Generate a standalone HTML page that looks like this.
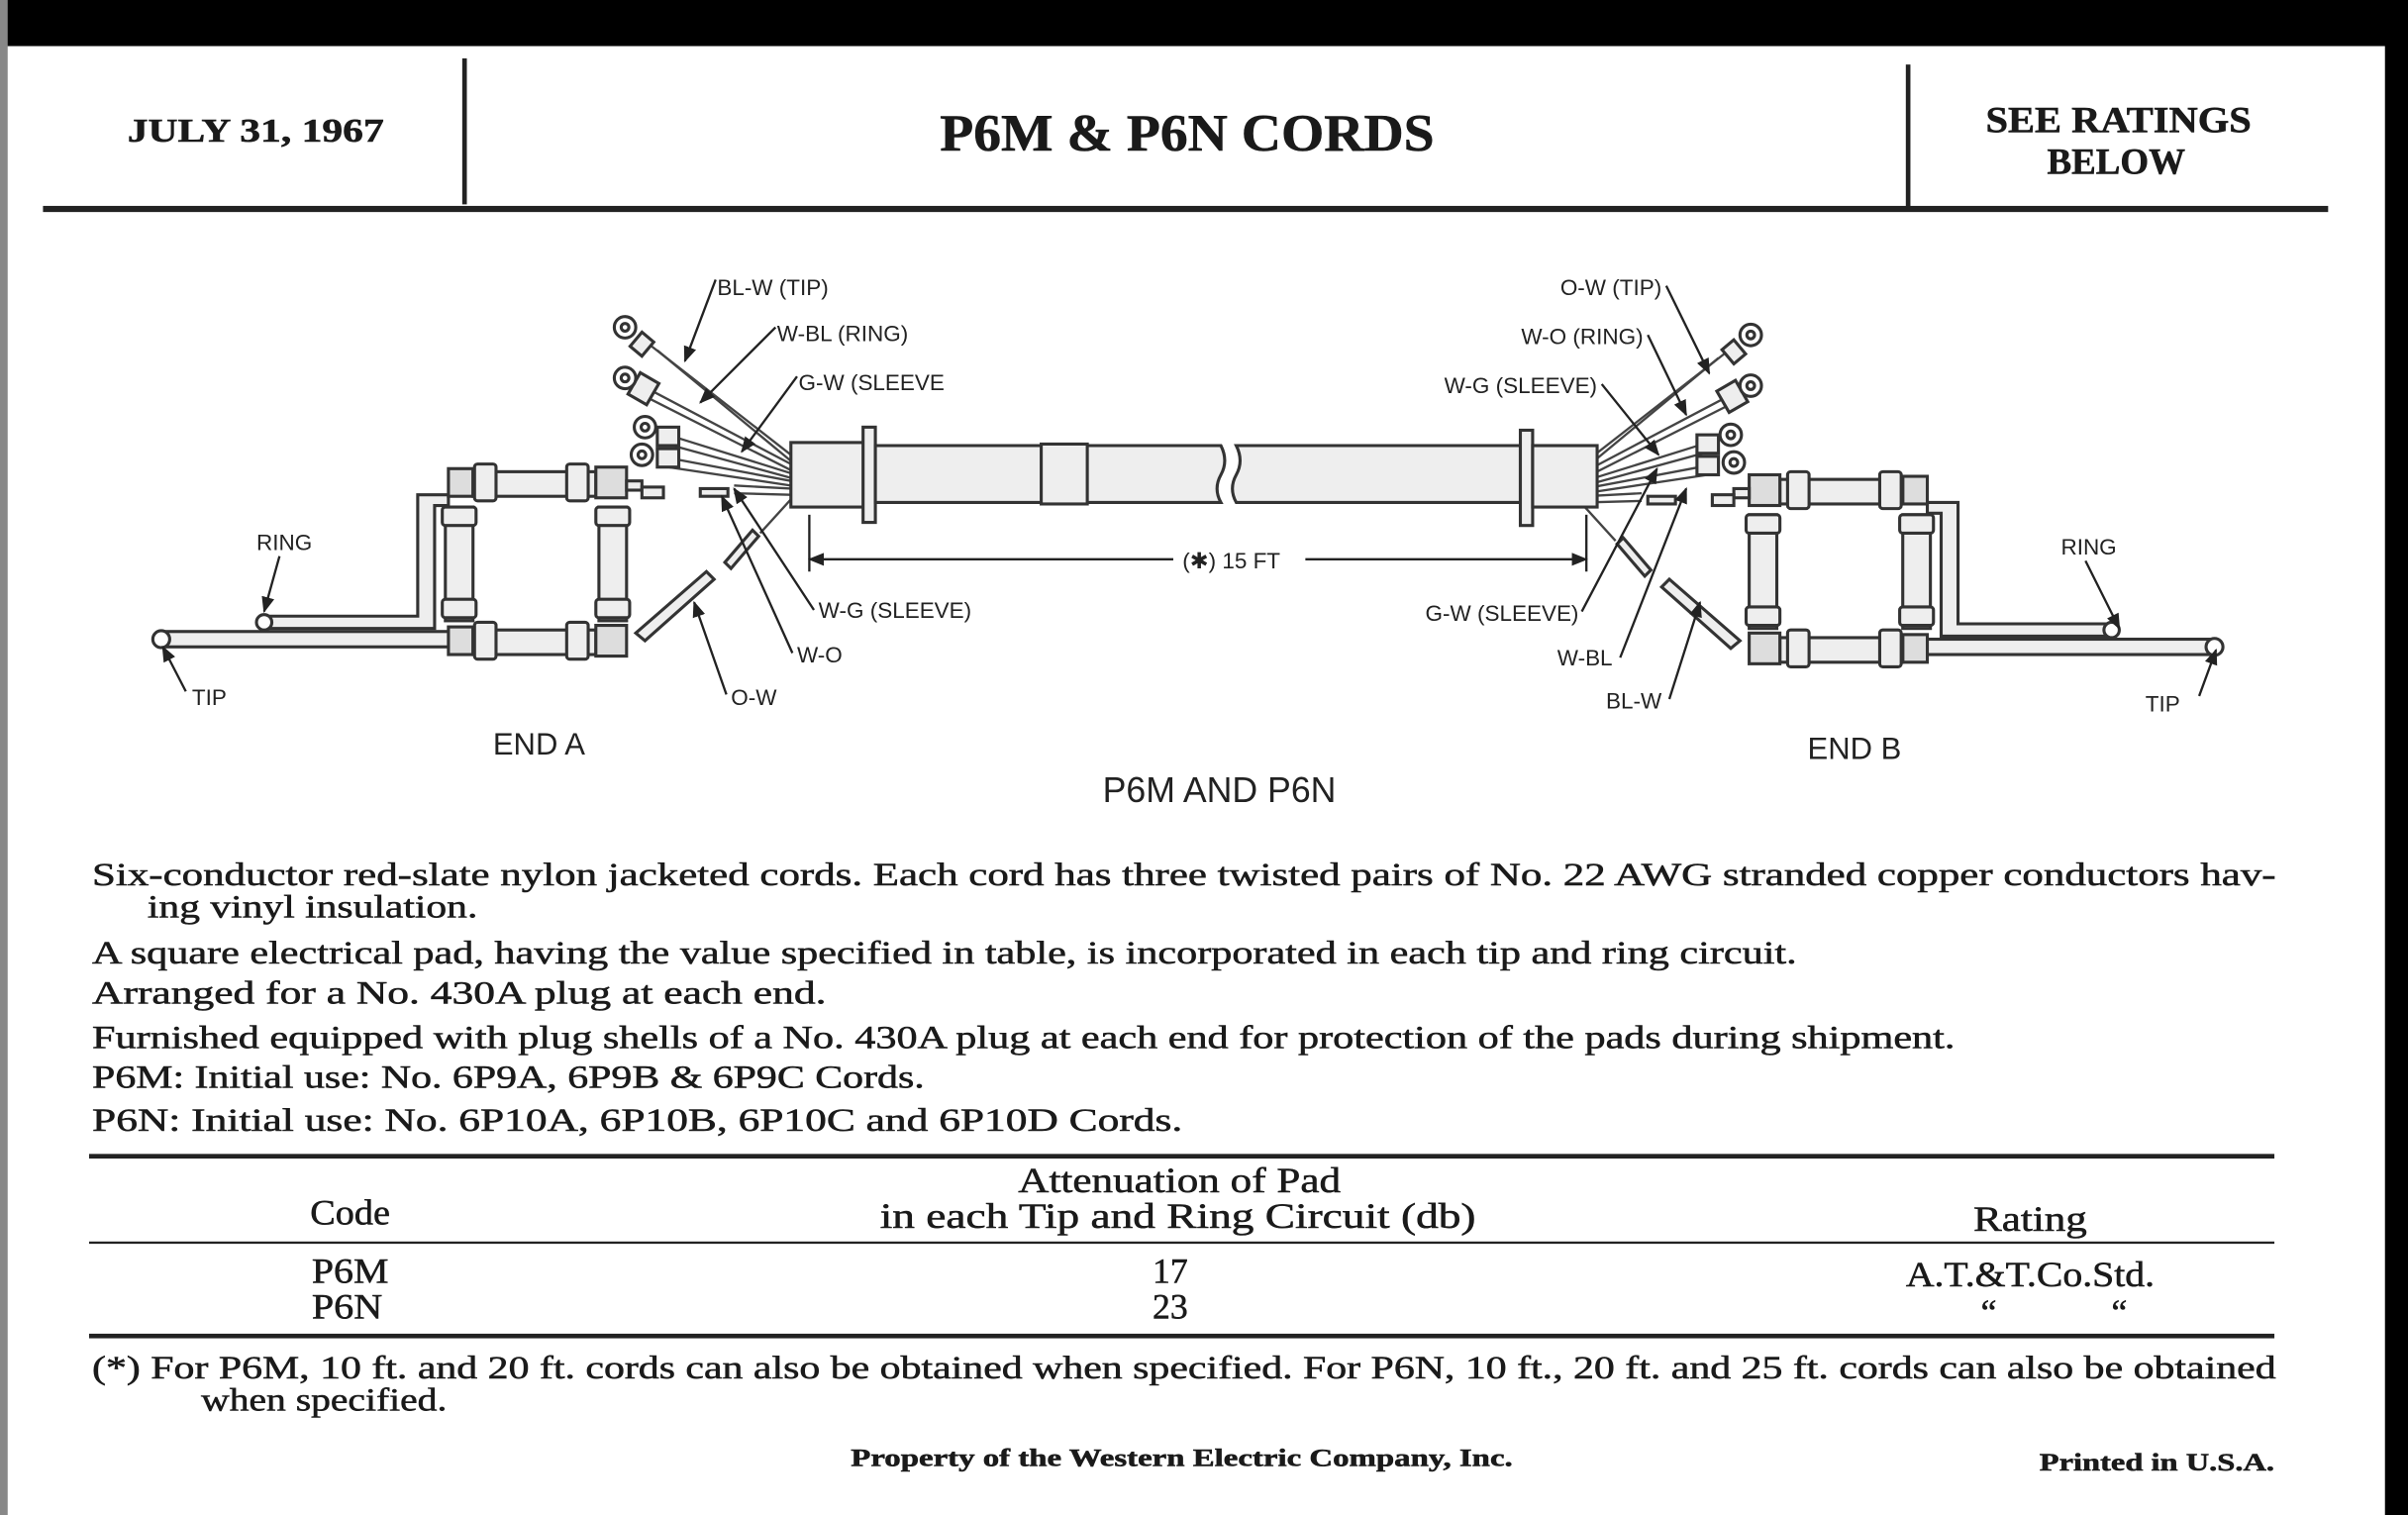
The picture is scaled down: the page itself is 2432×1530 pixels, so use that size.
<!DOCTYPE html>
<html><head><meta charset="utf-8"><style>
html,body{margin:0;padding:0;background:#fff;width:2432px;height:1530px;overflow:hidden}
svg{display:block}
.s{font-family:"Liberation Serif",serif;fill:#1a1a1a;stroke:#1a1a1a;stroke-width:0.35}
.d{font-family:"Liberation Sans",sans-serif;fill:#222;font-size:14.5px}
</style></head><body>
<svg width="2432" height="1530" viewBox="0 0 1568 986" preserveAspectRatio="none" xmlns="http://www.w3.org/2000/svg">
<defs>
<marker id="ar" viewBox="0 0 10 10" refX="9" refY="5" markerWidth="7" markerHeight="7" orient="auto-start-reverse"><path d="M0,1 L10,5 L0,9 z" fill="#222"/></marker>
<g id="endA" stroke="#333" stroke-width="2" fill="#eee">
  <rect x="105" y="411" width="188" height="10"/>
  <circle cx="105" cy="416" r="5.5" fill="#fff"/>
  <path d="M172,401 H272 V322 H292 V329 H283 V409 H172 z"/>
  <circle cx="172" cy="405" r="5" fill="#fff"/>
  <rect x="292" y="305" width="16" height="18" fill="#ddd"/>
  <rect x="308" y="307" width="80" height="16"/>
  <rect x="309" y="302" width="14" height="24" rx="2"/>
  <rect x="369" y="302" width="14" height="24" rx="2"/>
  <rect x="388" y="304" width="20" height="20" fill="#ddd"/>
  <rect x="292" y="408" width="16" height="18" fill="#ddd"/>
  <rect x="308" y="410" width="80" height="16"/>
  <rect x="309" y="405" width="14" height="24" rx="2"/>
  <rect x="369" y="405" width="14" height="24" rx="2"/>
  <rect x="388" y="407" width="20" height="20" fill="#ddd"/>
  <rect x="290" y="330" width="18" height="74"/>
  <rect x="288" y="330" width="22" height="12" rx="2"/>
  <rect x="288" y="390" width="22" height="12" rx="2"/>
  <rect x="390" y="330" width="18" height="74"/>
  <rect x="388" y="330" width="22" height="12" rx="2"/>
  <rect x="388" y="390" width="22" height="12" rx="2"/>
  <rect x="408" y="313" width="10" height="6"/>
  <rect x="418" y="317" width="14" height="7"/>
  <rect x="456" y="318" width="18" height="5"/>
  <path d="M414,412 L460,372 L465,377 L420,417 z"/>
  <path d="M472,366 L490,345 L494,349 L476,370 z"/>
  <g stroke="#444" stroke-width="1.5" fill="none">
    <path d="M515,296 L420,222"/><path d="M515,300 L428,228"/>
    <path d="M515,302 L420,252"/><path d="M515,306 L420,258"/>
    <path d="M515,308 L438,284"/><path d="M515,311 L438,290"/>
    <path d="M515,313 L435,298"/><path d="M515,316 L435,304"/>
    <path d="M515,318 L478,316"/><path d="M515,322 L478,321"/>
    <path d="M515,325 L495,347"/>
  </g>
  <rect x="413" y="218" width="10" height="12" transform="rotate(40 418 224)"/>
  <rect x="412" y="245" width="14" height="16" transform="rotate(30 419 253)"/>
  <rect x="428" y="278" width="14" height="12"/>
  <rect x="428" y="292" width="14" height="12"/>
  <circle cx="407" cy="213" r="7" fill="#fff"/><circle cx="407" cy="213" r="2.5" fill="#fff"/>
  <circle cx="407" cy="246" r="7" fill="#fff"/><circle cx="407" cy="246" r="2.5" fill="#fff"/>
  <circle cx="420" cy="278" r="7" fill="#fff"/><circle cx="420" cy="278" r="2.5" fill="#fff"/>
  <circle cx="418" cy="296" r="7" fill="#fff"/><circle cx="418" cy="296" r="2.5" fill="#fff"/>
</g>
</defs>

<rect x="0" y="0" width="1568" height="30" fill="#000"/>
<rect x="1553" y="0" width="15" height="986" fill="#000"/>
<rect x="0" y="0" width="5" height="986" fill="#888"/>

<rect x="301" y="38" width="3" height="95" fill="#222"/>
<rect x="1241" y="42" width="3" height="94" fill="#222"/>
<rect x="28" y="134" width="1488" height="4" fill="#222"/>
<text class="s" x="83" y="92" font-size="22" font-weight="bold" textLength="167" lengthAdjust="spacingAndGlyphs">JULY 31, 1967</text>
<text class="s" x="612" y="98" font-size="34" font-weight="bold" textLength="322" lengthAdjust="spacingAndGlyphs">P6M &amp; P6N CORDS</text>
<text class="s" x="1293" y="86" font-size="24" font-weight="bold" textLength="173" lengthAdjust="spacingAndGlyphs">SEE RATINGS</text>
<text class="s" x="1333" y="113" font-size="24" font-weight="bold" textLength="90" lengthAdjust="spacingAndGlyphs">BELOW</text>

<use href="#endA"/>
<use href="#endA" transform="translate(1547,5) scale(-1,1)"/>
<g stroke="#333" stroke-width="2" fill="#eee">
  <rect x="515" y="288" width="50" height="42"/>
  <rect x="562" y="278" width="8" height="62"/>
  <path d="M570,290 H795 Q800,300 795,309 Q790,318 795,327 H570 z"/>
  <rect x="678" y="289" width="30" height="39"/>
  <path d="M805,290 H990 V327 H805 Q800,318 805,309 Q810,300 805,290 z"/>
  <rect x="990" y="280" width="8" height="62"/>
  <rect x="998" y="290" width="42" height="40"/>
</g>
<g stroke="#222" stroke-width="1.5" fill="none">
  <path d="M527,335 V372"/><path d="M1033,335 V372"/>
  <path d="M527,364 H764" marker-start="url(#ar)"/><path d="M850,364 H1033" marker-end="url(#ar)"/>
  <path d="M466,182 L446,235" marker-end="url(#ar)"/>
  <path d="M505,213 L456,262" marker-end="url(#ar)"/>
  <path d="M519,245 L483,294" marker-end="url(#ar)"/>
  <path d="M182,362 L172,398" marker-end="url(#ar)"/>
  <path d="M121,450 L106,421" marker-end="url(#ar)"/>
  <path d="M530,397 L478,318" marker-end="url(#ar)"/>
  <path d="M516,425 L470,323" marker-end="url(#ar)"/>
  <path d="M473,452 L452,392" marker-end="url(#ar)"/>
  <path d="M1085,186 L1113,243" marker-end="url(#ar)"/>
  <path d="M1073,218 L1098,270" marker-end="url(#ar)"/>
  <path d="M1043,250 L1080,296" marker-end="url(#ar)"/>
  <path d="M1358,365 L1380,409" marker-end="url(#ar)"/>
  <path d="M1432,453 L1443,423" marker-end="url(#ar)"/>
  <path d="M1030,398 L1079,305" marker-end="url(#ar)"/>
  <path d="M1055,428 L1098,318" marker-end="url(#ar)"/>
  <path d="M1087,455 L1107,392" marker-end="url(#ar)"/>
</g>
<text class="d" x="770" y="370">(✱) 15 FT</text>
<text class="d" x="467" y="192">BL-W (TIP)</text>
<text class="d" x="506" y="222">W-BL (RING)</text>
<text class="d" x="520" y="254">G-W (SLEEVE</text>
<text class="d" x="167" y="358">RING</text>
<text class="d" x="125" y="459">TIP</text>
<text class="d" x="533" y="402">W-G (SLEEVE)</text>
<text class="d" x="519" y="431">W-O</text>
<text class="d" x="476" y="459">O-W</text>
<text class="d" x="321" y="491" style="font-size:20px">END A</text>
<text class="d" x="1082" y="192" text-anchor="end">O-W (TIP)</text>
<text class="d" x="1070" y="224" text-anchor="end">W-O (RING)</text>
<text class="d" x="1040" y="256" text-anchor="end">W-G (SLEEVE)</text>
<text class="d" x="1342" y="361">RING</text>
<text class="d" x="1397" y="463">TIP</text>
<text class="d" x="1028" y="404" text-anchor="end">G-W (SLEEVE)</text>
<text class="d" x="1050" y="433" text-anchor="end">W-BL</text>
<text class="d" x="1082" y="461" text-anchor="end">BL-W</text>
<text class="d" x="1177" y="494" style="font-size:20px">END B</text>
<text class="d" x="794" y="522" style="font-size:23px" text-anchor="middle">P6M AND P6N</text>

<g class="s" font-size="21">
<text x="60" y="576" textLength="1422" lengthAdjust="spacingAndGlyphs">Six-conductor red-slate nylon jacketed cords.  Each cord has three twisted pairs of No. 22 AWG stranded copper conductors hav-</text>
<text x="96" y="597" textLength="215" lengthAdjust="spacingAndGlyphs">ing vinyl insulation.</text>
<text x="60" y="627" textLength="1110" lengthAdjust="spacingAndGlyphs">A square electrical pad, having the value specified in table, is incorporated in each tip and ring circuit.</text>
<text x="60" y="653" textLength="478" lengthAdjust="spacingAndGlyphs">Arranged for a No. 430A plug at each end.</text>
<text x="60" y="682" textLength="1213" lengthAdjust="spacingAndGlyphs">Furnished equipped with plug shells of a No. 430A plug at each end for protection of the pads during shipment.</text>
<text x="60" y="708" textLength="542" lengthAdjust="spacingAndGlyphs">P6M: Initial use:  No. 6P9A, 6P9B &amp; 6P9C Cords.</text>
<text x="60" y="736" textLength="710" lengthAdjust="spacingAndGlyphs">P6N:  Initial use:  No. 6P10A, 6P10B, 6P10C and 6P10D Cords.</text>
</g>

<rect x="58" y="751" width="1423" height="3" fill="#222"/>
<rect x="58" y="808" width="1423" height="1.5" fill="#222"/>
<rect x="58" y="868" width="1423" height="3" fill="#222"/>
<g class="s" font-size="23" text-anchor="middle">
<text x="768" y="776" textLength="210" lengthAdjust="spacingAndGlyphs">Attenuation of Pad</text>
<text x="767" y="799" textLength="388" lengthAdjust="spacingAndGlyphs">in each Tip and Ring Circuit (db)</text>
<text x="228" y="797" textLength="52" lengthAdjust="spacingAndGlyphs">Code</text>
<text x="1322" y="801" textLength="74" lengthAdjust="spacingAndGlyphs">Rating</text>
<text x="228" y="835" textLength="50" lengthAdjust="spacingAndGlyphs">P6M</text>
<text x="762" y="835">17</text>
<text x="1322" y="837" textLength="162" lengthAdjust="spacingAndGlyphs">A.T.&amp;T.Co.Std.</text>
<text x="226" y="858" textLength="46" lengthAdjust="spacingAndGlyphs">P6N</text>
<text x="762" y="858">23</text>
<text x="1295" y="862">“</text>
<text x="1380" y="862">“</text>
</g>
<g class="s" font-size="21">
<text x="60" y="897" textLength="1422" lengthAdjust="spacingAndGlyphs">(*)  For P6M, 10 ft. and 20 ft. cords can also be obtained when specified. For P6N, 10 ft., 20 ft. and 25 ft. cords can also be obtained</text>
<text x="131" y="918" textLength="160" lengthAdjust="spacingAndGlyphs">when specified.</text>
</g>
<text class="s" x="554" y="954" font-size="16" font-weight="bold" textLength="431" lengthAdjust="spacingAndGlyphs">Property of the Western Electric Company, Inc.</text>
<text class="s" x="1328" y="957" font-size="16" font-weight="bold" textLength="153" lengthAdjust="spacingAndGlyphs">Printed in U.S.A.</text>
</svg>
</body></html>
